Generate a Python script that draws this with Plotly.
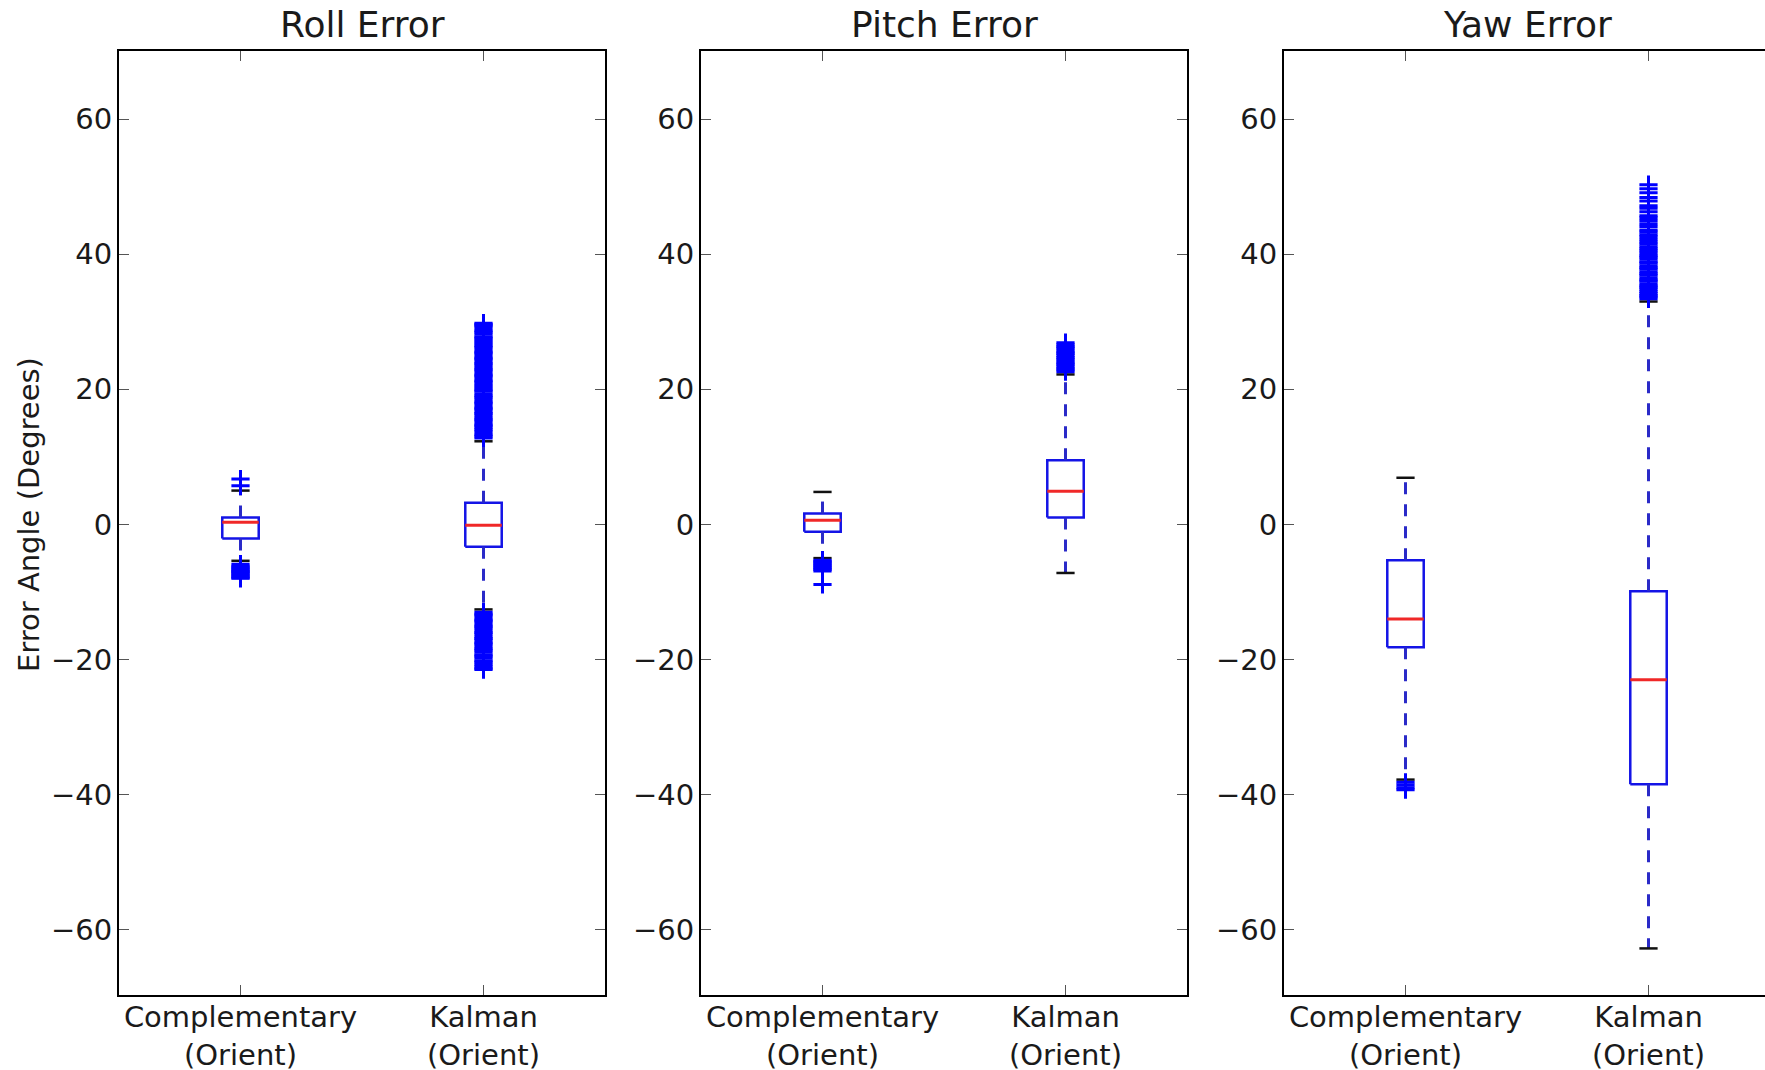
import plotly.graph_objects as go

# ---------------------------------------------------------------- data
panel_titles = ["Roll Error", "Pitch Error", "Yaw Error"]
method_labels = ["Complementary<br>(Orient)", "Kalman<br>(Orient)"]
method_pos = [1, 2]
y_ticks = [-60, -40, -20, 0, 20, 40, 60]

# five-number summaries: [lower whisker, Q1, median, Q3, upper whisker]
roll_comp = [-5.4, -2.1, 0.3, 1.0, 5.0]
roll_kalman = [-12.6, -3.3, -0.15, 3.2, 12.3]
pitch_comp = [-5.0, -1.1, 0.6, 1.6, 4.8]
pitch_kalman = [-7.2, 1.0, 4.9, 9.5, 22.2]
yaw_comp = [-37.8, -18.2, -14.0, -5.3, 6.9]
yaw_kalman = [-62.8, -38.5, -23.0, -9.9, 33.0]

# outliers (flier points)
roll_comp_out = [5.7, 6.7,
                 -5.9, -6.2, -6.4, -6.6, -6.8, -7.0, -7.1, -7.3, -7.5, -7.7, -7.9, -8.0]
roll_kalman_out = [12.8, 13.1, 13.3, 13.7, 14.0, 14.3, 14.6, 14.8, 15.2, 15.5, 15.7, 16.1,
                   16.4, 16.6, 17.0, 17.2, 17.5, 17.9, 18.1, 18.4, 18.8, 19.0, 19.3, 19.7,
                   19.9, 20.2, 20.5, 20.8, 21.1, 21.3, 21.7, 22.0, 22.2, 22.6, 22.9, 23.1,
                   23.5, 23.8, 24.0, 24.4, 24.6, 24.9, 25.3, 25.5, 25.8, 26.2, 26.4, 26.7,
                   27.0, 27.3, 27.6, 27.8, 28.2, 28.5, 28.7, 29.1, 29.4, 29.6, 29.8,
                   -13.0, -13.3, -13.5, -13.9, -14.2, -14.4, -14.8, -15.1, -15.3, -15.7,
                   -16.0, -16.2, -16.6, -16.9, -17.1, -17.5, -17.7, -18.0, -18.4, -18.6,
                   -18.9, -19.3, -19.5, -19.8, -20.2, -20.4, -20.7, -21.0, -21.3, -21.5]
pitch_comp_out = [-5.3, -5.5, -5.7, -5.9, -6.1, -6.3, -6.5, -6.7, -6.9, -8.9]
pitch_kalman_out = [22.6, 22.9, 23.1, 23.4, 23.7, 23.9, 24.2, 24.5, 24.7, 25.0, 25.3,
                    25.5, 25.8, 26.1, 26.3, 26.6, 26.9]
yaw_comp_out = [-38.2, -38.6, -39.0, -39.3]
yaw_kalman_out = [33.4, 33.7, 33.9, 34.2, 34.5, 34.8, 35.1, 35.3, 35.6, 36.0, 36.2, 36.5,
                  36.9, 37.1, 37.4, 37.8, 38.0, 38.3, 38.7, 38.9, 39.3, 39.6, 39.8, 40.2,
                  40.5, 40.8, 41.1, 41.5, 41.8, 42.2, 42.6, 42.9, 43.3, 43.6, 44.1, 44.5,
                  45.0, 45.4, 45.7, 46.3, 46.8, 47.2, 47.9, 48.4, 49.1, 49.7, 50.3]

panel_stats = [[roll_comp, roll_kalman], [pitch_comp, pitch_kalman], [yaw_comp, yaw_kalman]]
panel_outliers = [[roll_comp_out, roll_kalman_out],
                  [pitch_comp_out, pitch_kalman_out],
                  [yaw_comp_out, yaw_kalman_out]]

# ---------------------------------------------------------------- style
W, H = 1765, 1070
FONT = "DejaVu Sans"
BLUE = "#0000ff"
BOX_BLUE = "#1414e6"
WHISK_BLUE = "#2a2ac8"
RED = "#f02828"
BOX_W = 0.15
CAP_W = 0.075
TOP, BOTTOM = 51, 75
Y_RANGE = [-69.7, 70.1]
panel_px = [(119, 605), (701, 1187), (1284, 1770)]

fig = go.Figure()


def draw_box(ax_x, ax_y, pos, stats, fliers):
    lo, q1, med, q3, hi = stats
    common = dict(xaxis=ax_x, yaxis=ax_y, showlegend=False, hoverinfo="skip")
    half = BOX_W / 2
    # box outline
    fig.add_trace(go.Scatter(x=[pos - half, pos + half, pos + half, pos - half, pos - half],
                             y=[q1, q1, q3, q3, q1], mode="lines",
                             line=dict(color=BOX_BLUE, width=2.5), **common))
    # median
    fig.add_trace(go.Scatter(x=[pos - half, pos + half], y=[med, med], mode="lines",
                             line=dict(color=RED, width=3), **common))
    # whiskers
    for a, b in ((q3, hi), (q1, lo)):
        fig.add_trace(go.Scatter(x=[pos, pos], y=[a, b], mode="lines",
                                 line=dict(color=WHISK_BLUE, width=3, dash="12px,10px"),
                                 **common))
    # caps
    for v in (hi, lo):
        fig.add_trace(go.Scatter(x=[pos - CAP_W / 2, pos + CAP_W / 2], y=[v, v], mode="lines",
                                 line=dict(color="#111111", width=2.5), **common))
    # fliers
    fig.add_trace(go.Scatter(x=[pos] * len(fliers), y=fliers, mode="markers",
                             marker=dict(symbol="cross-thin", size=13,
                                         line=dict(color=BLUE, width=3)),
                             **common))


plot_h = H - TOP - BOTTOM
for i, (stats_pair, out_pair) in enumerate(zip(panel_stats, panel_outliers)):
    n = i + 1
    xk = "x" if n == 1 else f"x{n}"
    yk = "y" if n == 1 else f"y{n}"
    for pos, st, fl in zip(method_pos, stats_pair, out_pair):
        draw_box(xk, yk, pos, st, fl)

    left, right = panel_px[i]
    vis_right = min(right, W)
    x_hi = 0.5 + 2.0 * (vis_right - left) / (right - left)
    axis_common = dict(showgrid=False, zeroline=False, showline=True, linecolor="#000000",
                       linewidth=2, ticks="inside", ticklen=10, tickwidth=1,
                       tickcolor="#555555",
                       tickfont=dict(family=FONT, size=29, color="#1a1a1a"))
    fig.layout[f"xaxis{'' if n == 1 else n}"] = dict(
        domain=[left / W, vis_right / W], range=[0.5, x_hi], anchor=yk,
        tickmode="array", tickvals=method_pos, ticktext=method_labels,
        mirror="ticks", ticklabelstandoff=-5, **axis_common)
    fig.layout[f"yaxis{'' if n == 1 else n}"] = dict(
        domain=[0, 1], range=Y_RANGE, anchor=xk, tickmode="array", tickvals=y_ticks,
        mirror=("ticks" if right <= W else False), ticklabelstandoff=-1, **axis_common)

    fig.add_annotation(text=panel_titles[i], x=1.5, xref=xk, y=1 + 26 / plot_h, yref="paper",
                       xanchor="center", yanchor="middle", showarrow=False,
                       font=dict(family=FONT, size=36, color="#1a1a1a"))

# right-hand tick marks for the last panel, whose frame runs past the page edge
fig.layout["yaxis4"] = dict(overlaying="y3", anchor="x3", side="right", range=Y_RANGE,
                            tickmode="array", tickvals=y_ticks, ticks="inside", ticklen=10,
                            tickwidth=1, tickcolor="#555555", showticklabels=False,
                            showline=False, showgrid=False, zeroline=False)

fig.add_annotation(text="Error Angle (Degrees)", x=29 / W, xref="paper",
                   y=(H - BOTTOM - 515) / plot_h, yref="paper", textangle=-90,
                   xanchor="center", yanchor="middle", showarrow=False,
                   font=dict(family=FONT, size=29, color="#1a1a1a"))

fig.update_layout(width=W, height=H, margin=dict(l=0, r=0, t=TOP, b=BOTTOM, autoexpand=False),
                  plot_bgcolor="white", paper_bgcolor="white", showlegend=False)

fig.write_html("out.html", config={"displayModeBar": False})
